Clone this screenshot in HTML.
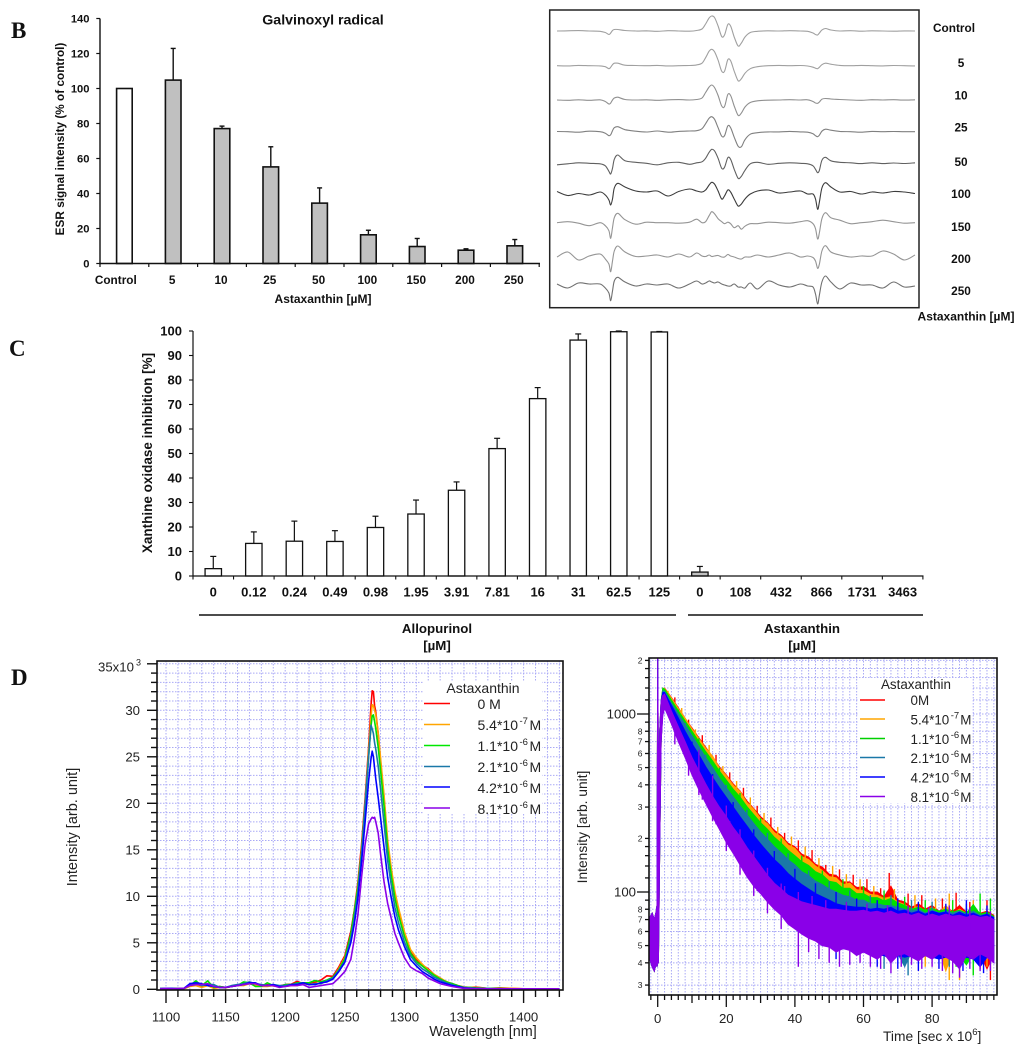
<!DOCTYPE html>
<html lang="en">
<head>
<meta charset="utf-8">
<title>Antioxidant activity of astaxanthin</title>
<style>
html,body{margin:0;padding:0;background:#fff;width:1024px;height:1051px;overflow:hidden}
svg{display:block;filter:blur(.3px)}
text{font-family:"Liberation Sans",sans-serif;fill:#111}
.b{font-weight:bold}
.panel{font-family:"Liberation Serif",serif;font-weight:bold;font-size:23px;fill:#111}
.d{fill:#222;font-size:13.2px}
.lg{fill:#222;font-size:14px}
#legendDecay .lg{font-size:13.4px}
</style>
</head>
<body>
<svg id="figure" xmlns="http://www.w3.org/2000/svg" width="1024" height="1051" viewBox="0 0 1024 1051">
<rect x="0" y="0" width="1024" height="1051" fill="#fff"/>
<defs>
<clipPath id="clipSpectrum"><rect x="157" y="661" width="406" height="329"/></clipPath>
<clipPath id="clipDecay"><rect x="649" y="658" width="348" height="337"/></clipPath>
</defs>

<text class="panel" x="11" y="38">B</text>
<text class="panel" x="9" y="356">C</text>
<text class="panel" x="11" y="685">D</text>

<g id="chartB"></g>
<text class="b" x="323" y="24.5" font-size="14.2" text-anchor="middle">Galvinoxyl radical</text>
<text class="b" transform="translate(64,139) rotate(-90)" font-size="11.8" text-anchor="middle">ESR signal intensity (% of control)</text>
<text class="b" x="323" y="303" font-size="12" text-anchor="middle">Astaxanthin [µM]</text>

<g id="chartEsr"></g>
<text class="b" x="966" y="320.5" font-size="12" text-anchor="middle">Astaxanthin [µM]</text>

<g id="chartC"></g>
<text class="b" transform="translate(152,453) rotate(-90)" font-size="13.5" text-anchor="middle">Xanthine oxidase inhibition [%]</text>
<line x1="199" y1="615" x2="676" y2="615" stroke="#111" stroke-width="1.4"/>
<line x1="688" y1="615" x2="923" y2="615" stroke="#111" stroke-width="1.4"/>
<text class="b" x="437" y="633" font-size="13.3" text-anchor="middle">Allopurinol</text>
<text class="b" x="437" y="650" font-size="13.3" text-anchor="middle">[µM]</text>
<text class="b" x="802" y="633" font-size="13.3" text-anchor="middle">Astaxanthin</text>
<text class="b" x="802" y="650" font-size="13.3" text-anchor="middle">[µM]</text>

<g id="chartSpectrum"></g>
<g id="legendSpectrum">
<rect x="423" y="681" width="119" height="133" fill="#fff"/>
<text class="lg" x="483" y="693" text-anchor="middle">Astaxanthin</text>
<line x1="424" x2="450" y1="703.5" y2="703.5" stroke="#ff0000" stroke-width="1.6"/>
<text class="lg" x="477.5" y="709">0 M</text>
<line x1="424" x2="450" y1="724.5" y2="724.5" stroke="#ffa500" stroke-width="1.6"/>
<text class="lg" x="477.5" y="730">5.4*10<tspan dy="-6" dx="1.5" font-size="9.5">-7</tspan><tspan dy="6" dx="1.5">M</tspan></text>
<line x1="424" x2="450" y1="745.5" y2="745.5" stroke="#00e800" stroke-width="1.6"/>
<text class="lg" x="477.5" y="751">1.1*10<tspan dy="-6" dx="1.5" font-size="9.5">-6</tspan><tspan dy="6" dx="1.5">M</tspan></text>
<line x1="424" x2="450" y1="766.5" y2="766.5" stroke="#1a78a8" stroke-width="1.6"/>
<text class="lg" x="477.5" y="772">2.1*10<tspan dy="-6" dx="1.5" font-size="9.5">-6</tspan><tspan dy="6" dx="1.5">M</tspan></text>
<line x1="424" x2="450" y1="787" y2="787" stroke="#0000ff" stroke-width="1.6"/>
<text class="lg" x="477.5" y="793">4.2*10<tspan dy="-6" dx="1.5" font-size="9.5">-6</tspan><tspan dy="6" dx="1.5">M</tspan></text>
<line x1="424" x2="450" y1="808" y2="808" stroke="#8a00e8" stroke-width="1.6"/>
<text class="lg" x="477.5" y="814">8.1*10<tspan dy="-6" dx="1.5" font-size="9.5">-6</tspan><tspan dy="6" dx="1.5">M</tspan></text>
</g>
<text class="d" transform="translate(77,827) rotate(-90)" text-anchor="middle" style="font-size:14.5px">Intensity [arb. unit]</text>
<text class="d" x="483" y="1036" text-anchor="middle" style="font-size:14.4px">Wavelength [nm]</text>

<g id="chartDecay"></g>
<g id="legendDecay">
<rect x="858" y="678" width="114" height="125" fill="#fff"/>
<text class="lg" x="916" y="689" text-anchor="middle">Astaxanthin</text>
<line x1="860" x2="885" y1="700" y2="700" stroke="#ff0000" stroke-width="1.6"/>
<text class="lg" x="910.5" y="705">0M</text>
<line x1="860" x2="885" y1="719" y2="719" stroke="#ffa500" stroke-width="1.6"/>
<text class="lg" x="910.5" y="724.5">5.4*10<tspan dy="-6" dx="1.5" font-size="9.5">-7</tspan><tspan dy="6" dx="1">M</tspan></text>
<line x1="860" x2="885" y1="738.5" y2="738.5" stroke="#00d000" stroke-width="1.6"/>
<text class="lg" x="910.5" y="744">1.1*10<tspan dy="-6" dx="1.5" font-size="9.5">-6</tspan><tspan dy="6" dx="1">M</tspan></text>
<line x1="860" x2="885" y1="757.5" y2="757.5" stroke="#1a78a8" stroke-width="1.6"/>
<text class="lg" x="910.5" y="763">2.1*10<tspan dy="-6" dx="1.5" font-size="9.5">-6</tspan><tspan dy="6" dx="1">M</tspan></text>
<line x1="860" x2="885" y1="777" y2="777" stroke="#0000ff" stroke-width="1.6"/>
<text class="lg" x="910.5" y="782.5">4.2*10<tspan dy="-6" dx="1.5" font-size="9.5">-6</tspan><tspan dy="6" dx="1">M</tspan></text>
<line x1="860" x2="885" y1="796.5" y2="796.5" stroke="#8a00e8" stroke-width="1.6"/>
<text class="lg" x="910.5" y="802">8.1*10<tspan dy="-6" dx="1.5" font-size="9.5">-6</tspan><tspan dy="6" dx="1">M</tspan></text>
</g>
<text class="d" transform="translate(587,827) rotate(-90)" text-anchor="middle" style="font-size:13.8px">Intensity [arb. unit]</text>
<text class="d" x="883" y="1041" style="font-size:13.8px">Time [sec x 10<tspan dy="-6" font-size="9.5">6</tspan><tspan dy="6">]</tspan></text>
</svg>

<script>
/* ---------- Panel B: galvinoxyl ---------- */
const galvCategories = ['Control','5','10','25','50','100','150','200','250'];
const galvValues = [100,104.8,77.1,55.2,34.5,16.4,9.7,7.6,10.1];
const galvErrorTops = [100,122.9,78.5,66.7,43.2,19,14.3,8.4,13.7];
const galvFills = ['#ffffff','#c0c0c0','#c0c0c0','#c0c0c0','#c0c0c0','#c0c0c0','#c0c0c0','#c0c0c0','#c0c0c0'];
const galvTicks = [0,20,40,60,80,100,120,140];

/* ---------- Panel B: ESR spectra ---------- */
const esrLabels = ['Control','5','10','25','50','100','150','200','250'];
const esrField = [0,3,6,9,12,13.5,14.5,15,15.5,16,17,19,22,25,28,31,34,37,39,40.5,41.5,42.5,43.2,44,45,46,46.8,47.7,48.5,49.5,50.6,51.5,52.5,54,56,59,62,65,68,70,71.5,72.2,72.8,73.3,74,75,76.5,79,82,85,88,91,94,97,100];
const esrControl = [0,.2,.4,0,-.3,-1.5,-3.5,-2,.5,1.5,1.5,.5,0,.2,-.3,.3,0,-.2,.5,2,7,13,15,13.5,5,-5.5,-4,6.5,5,-6,-15,-12,-6,-1.5,-.3,.2,0,.3,0,-.3,-2,-3.5,-4,-2,1,2.5,1,0,.3,-.2,.2,0,-.2,.1,0];
const esr5 = [0,-.2,.3,0,-.2,-1,-3,-1.5,1,2.5,2.5,.5,.2,0,.3,-.2,0,.2,.8,2.5,8,14.5,16.4,14,5.5,-5.5,-5.5,6,5,-5.5,-15,-13,-7.5,-3,-1,0,.3,0,.2,-.3,-1.5,-2.5,-3,-1.5,1,2.5,1.5,.3,0,.3,0,-.2,.2,0,-.2];
const esr10 = [0,-.3,.2,-.3,.2,-1.5,-4,-3,0,2,2.8,.5,0,.2,-.3,.2,.4,0,.5,2,7.5,13,15,12.5,4.5,-6,-6.5,5.5,4.5,-6,-15.3,-13,-7,-2.5,-.8,-.2,0,.3,0,.2,-1.5,-3,-3.3,-2,.8,1.5,1,.5,0,-.3,.3,0,.3,-.1,.2];
const esr25 = [.2,0,-.5,.5,0,-1.5,-4,-3,1,4,5,2,.5,-.3,.7,-.5,.3,.7,1,3,8,13.5,15,12.5,4,-4.5,-4,5.8,4,-5.5,-14.5,-15,-8,-2.5,-1,-.2,-.2,.3,-.2,-.5,-2,-4,-5,-3.5,.5,2.5,1.5,.3,0,-.5,.3,0,.2,0,0];
const esr50 = [-1.5,-.5,.5,0,-.5,-2.5,-8,-10.7,-5,4,8.3,2.5,1,0,-1.5,.5,1,-1,.5,1.5,5,11,14,12.5,5,-5,-4,5.6,4,-6,-15,-13,-7,-.5,1,-1,0,.5,0,-.5,-2.5,-6,-9.4,-7,3,6,2.5,1,.5,-.3,.5,-.3,.3,-.2,.5];
const esr100 = [1.5,-2.5,-.5,-2,1,-2,-7,-12,-6,5,9.7,6,2,1,2,-3,1.5,4,2,1,3,8,10.7,9,2,-6,-3,3,1,-6,-13,-11,-6,-1,2,3,0,1,2,-1,-1,-6,-16.3,-9,5,10.3,6,1,1.5,-1,1,0,1.5,1,-.5];
const esr150 = [0,1,-.5,-3,0,-3,-8,-15.6,-5,5,9.4,3,-1.5,.5,0,0,-.5,.5,3.5,0,1,7,11,9,4,1,-1,.5,-1,-5,-3,-6.5,-3.5,-1,-1,.5,0,-.5,1,2,-1,-6,-16.3,-10,4,10,5,2.5,-1,0,1,2.5,1,-.5,0];
const esr200 = [-1,4,-4,0,2,-3,-8,-15.7,-5,5,10,4,-.5,0,1,-1,2,-1,3,0,-.5,1,-.5,0,.5,-1,-1,1.5,0,-1,-2.5,-3,-1,-1,1,-1,1,3,-1,0,-1.5,-5,-12.3,-8,5,10.3,4,1,-1,0,0,5,2,-4,1];
const esr250 = [1,-3,2,1,1,-3,-8,-15.7,-6,4,7.7,3,-1,1,0,1,-3,1,4,1,2,4,3,2,3,1,0,-1,-1,1,-2,-2,-3,2,-4,4,0,-2,1,-1,-2,-9,-19,-10,3,9,3,-4,2,0,0,-3,3,-2,-1];

/* ---------- Panel C: xanthine oxidase ---------- */
const xoCategories = ['0','0.12','0.24','0.49','0.98','1.95','3.91','7.81','16','31','62.5','125','0','108','432','866','1731','3463'];
const xoValues = [3,13.3,14.2,14.1,19.8,25.3,35,52,72.4,96.3,99.7,99.6,1.6,0,0,0,0,0];
const xoErrorTops = [8,18,22.4,18.5,24.4,31,38.4,56.2,76.9,98.8,100,99.8,3.9,0,0,0,0,0];
const xoTicks = [0,10,20,30,40,50,60,70,80,90,100];

/* ---------- Panel D: emission spectrum (x 1000) ---------- */
const spectrumNm = [1095,1100,1105,1110,1115,1120,1125,1130,1135,1140,1145,1150,1155,1160,1165,1170,1175,1180,1185,1190,1195,1200,1205,1210,1215,1220,1225,1230,1235,1240,1245,1250,1255,1258,1261,1264,1267,1270,1272,1273,1274,1275,1276,1278,1280,1283,1286,1289,1292,1295,1300,1305,1310,1315,1320,1325,1330,1335,1340,1345,1350,1355,1360,1370,1380,1390,1400,1410,1420,1430];
const spectrum0M = [.05,.1,.1,.05,.1,.5,.6,.3,.6,.2,.3,.2,.3,.4,.7,.6,.45,.4,.5,.35,.35,.5,.55,.85,.6,.7,.75,1,1.45,1.4,2.4,3.6,6.2,8.5,11.5,15.5,20.5,26,30.5,32.1,32,30.5,29.8,27.5,24.5,20.5,15.5,12.8,10.2,8.6,6,4,3.2,2.6,2.2,1.6,1.2,.8,.6,.4,.25,.2,.25,.1,.15,.1,.05,.05,.05,.05];
const spectrum54e7 = [.05,.05,.1,.1,.05,.3,.4,.2,.4,.1,.2,.15,.3,.4,.4,.6,.5,.3,.3,.4,.3,.3,.4,.4,.6,.5,.6,.7,.9,1.2,2.2,3.4,5.8,8.2,11.2,15,20,25.5,29.3,30.6,30.5,30,29.5,27.5,24.8,20.8,16,13,10.5,8.8,6.2,4.3,3.4,2.7,2.1,1.6,1.2,.85,.6,.4,.25,.2,.2,.1,.1,.1,.05,.05,.05,.05];
const spectrum11e6 = [.1,.1,.1,.1,.1,.4,.9,.4,.9,.2,.3,.2,.3,.4,.8,.7,.3,.3,.7,.4,.3,.5,.5,.7,.7,.7,.95,.8,1,1.3,2.1,3.3,5.9,8.3,11,14.8,19.8,25,28.3,29.4,29.5,28.8,28,26,23.5,19.6,15,12.2,9.8,8,5.7,3.9,3,2.5,2,1.5,1.1,.8,.6,.4,.2,.2,.15,.1,.1,.05,.05,.05,.05,.05];
const spectrum21e6 = [.1,.1,.1,.05,.1,.5,.6,.4,.5,.5,.2,.2,.4,.5,.6,.8,.6,.5,.4,.5,.4,.4,.5,.6,.7,.5,.6,.6,.9,1.2,2,3,5.4,7.6,10.5,14.5,19.8,25,28.4,28,27.5,26.5,25.8,24,21.5,17.8,13.8,11.2,8.8,7.2,5.1,3.6,2.8,2.2,1.8,1.3,1,.7,.5,.3,.2,.15,.1,.1,.05,.05,.05,.05,.05,.05];
const spectrum42e6 = [.05,.1,.1,.05,.1,.6,.7,.6,.4,.3,.2,.2,.3,.4,.5,.7,.7,.4,.4,.5,.3,.3,.5,.5,.7,.5,.5,.7,.8,1.1,1.9,2.9,5,7,9.8,13.6,18,22.4,24.8,25.6,25,23.8,22.6,20.6,18.4,15.2,12,9.8,7.8,6.4,4.6,3.2,2.5,1.9,1.5,1.1,.8,.6,.4,.3,.15,.1,.1,.05,.05,.05,.05,.05,.05,.05];
const spectrum81e6 = [.05,.1,.05,.1,.1,.4,.5,.5,.6,.3,.2,.2,.3,.4,.5,.6,.6,.4,.4,.4,.2,.3,.4,.4,.5,.2,.3,.4,.5,.6,1.2,1.9,3.2,5.4,8,12,15.6,17.8,18.3,18.5,18.4,18.5,18,16.8,14.5,11.5,9.2,7.6,6,5,3.4,2.4,2,1.7,1.2,.9,.6,.45,.3,.2,.1,.1,.05,.05,.05,.05,.05,.05,.05,.05];
const spectrumXLabels = [1100,1150,1200,1250,1300,1350,1400];
const spectrumYLabels = [0,5,10,15,20,25,30];

/* ---------- Panel D: luminescence decay ---------- */
const decayRiseTimes = [-2.3,-1.6,-1,-.4,-.2,0,.2,.6,1];
const decayRiseUpper = [72,76,70,78,84,2050,450,800,1180];
const decayRiseLower = [42,38,36,40,38,40,40,200,700];
const decayTimes = [1.5,2,4,6,8,10,12,14,16,18,20,22,24,26,28,30,32,34,36,38,40,42,44,46,48,50,52,54,56,58,60,62,64,66,68,70,72,74,76,78,80,82,84,86,88,90,92,94,96,98];
const decay0MUpper = [1380,1400,1240,1085,945,835,735,650,575,505,455,405,370,325,295,265,245,222,208,188,180,163,157,143,138,126,124,114,114,106,107,100,100,94,108,90,88,82,86,80,84,78,82,78,84,77,80,76,78,74];
const decay0MLower = [1080,1180,1040,900,780,680,590,520,455,400,355,315,285,250,225,200,183,165,152,138,130,118,112,103,98,90,86,80,78,74,72,68,66,62,62,58,56,54,52,50,50,48,48,47,46,46,45,45,37,45];
const decay54e7Upper = [1385,1390,1230,1075,950,825,728,642,580,498,450,398,368,318,292,258,242,216,204,184,176,158,152,140,132,122,120,110,112,103,102,97,96,92,94,88,85,80,83,78,82,76,84,76,80,76,78,74,76,73];
const decay54e7Lower = [1080,1170,1030,890,770,670,580,510,450,390,345,305,275,240,215,190,175,157,145,130,122,110,104,96,90,84,80,74,72,68,66,62,60,58,56,54,52,50,50,48,48,47,36,46,45,44,45,44,44,43];
const decay11e6Upper = [1400,1380,1200,1045,915,800,700,615,545,478,425,378,342,302,272,245,225,203,188,172,160,148,141,130,125,115,113,105,105,98,98,93,93,89,92,87,84,80,82,79,81,78,80,77,79,76,85,75,77,73];
const decay11e6Lower = [1070,1160,1000,860,740,640,550,480,420,365,320,285,255,222,198,178,162,145,132,120,110,102,96,88,84,77,75,69,68,63,62,58,57,54,52,50,49,47,47,46,46,45,45,44,44,39,45,44,43,43];
const decay21e6Upper = [1350,1340,1150,1000,870,755,655,570,500,435,385,342,305,272,243,218,198,180,166,152,142,130,124,115,110,104,100,96,94,90,90,86,86,84,84,82,80,78,80,76,79,76,78,76,78,75,78,74,75,72];
const decay21e6Lower = [1050,1120,950,810,690,590,500,430,375,320,280,245,215,190,168,150,134,120,110,100,92,84,78,72,68,64,61,57,55,52,50,48,46,46,44,45,38,46,44,45,45,44,44,43,44,43,44,43,43,42];
const decay42e6Upper = [1320,1320,1120,950,800,680,590,505,440,385,340,300,265,235,208,186,168,152,140,127,118,110,104,98,94,90,86,84,83,82,82,80,81,80,82,78,79,76,78,75,78,76,77,74,77,74,76,73,75,72];
const decay42e6Lower = [1020,1100,920,770,640,540,460,390,335,285,245,215,185,160,140,124,110,98,90,80,74,68,64,60,57,54,52,50,49,47,46,45,44,44,42,44,43,44,42,44,43,42,43,42,41,43,42,38,43,41];
const decay81e6Upper = [1270,1290,1040,850,700,570,480,405,345,300,265,230,205,178,158,140,124,112,104,96,92,88,86,84,82,80,80,79,78,78,79,77,78,76,78,75,76,74,76,73,75,73,75,73,74,72,74,72,73,70];
const decay81e6Lower = [980,1080,880,700,570,455,375,315,265,225,190,165,142,122,108,98,88,80,74,66,62,58,55,53,50,49,46,48,47,44,46,44,42,45,40,44,45,43,41,44,42,45,43,41,37,44,42,45,43,40];
/* noise spikes: [time, intensity] pairs */
const decaySpikesUp0M = [[5,1240],[9,930],[13,760],[17,590],[21,470],[25,385],[29,305],[33,262],[37,215],[41,195],[45,172],[49,142],[53,134],[57,125],[61,118],[65,105],[67.5,128],[73,98],[77,96],[83,92],[87,99],[91,88],[96,90]];
const decaySpikesUp54e7 = [[3,1350],[7,1080],[11,820],[15,670],[19,510],[23,420],[27,340],[31,278],[35,232],[39,205],[43,180],[47,155],[51,140],[55,126],[59,118],[63,108],[69,104],[75,96],[81,92],[85,98],[92,90]];
const decaySpikesUp11e6 = [[6,1060],[12,730],[18,500],[24,360],[30,260],[36,200],[42,160],[48,132],[54,118],[60,108],[66,102],[72,94],[78,90],[86,90],[94,98],[97,92]];
const decaySpikesUp21e6 = [[8,890],[14,590],[20,400],[26,290],[32,215],[38,165],[44,132],[50,115],[56,102],[62,96],[68,96],[74,90],[80,88],[90,86]];
const decaySpikesUp42e6 = [[10,700],[16,460],[22,320],[28,225],[34,170],[40,135],[46,112],[52,100],[58,92],[64,90],[70,92],[76,88],[84,86],[90,90],[96,84]];
const decaySpikesUp81e6 = [[5,900],[9,600],[13,440],[17,320],[21,250],[25,175],[29,135],[33,118],[37,108],[41,100],[45,95],[49,90],[55,88],[61,86],[67,84],[73,84],[79,82],[85,84],[91,82],[97,78]];
const decaySpikesDown0M = [[94,37],[97,32]];
const decaySpikesDown54e7 = [[78,38],[85,32],[88,32],[96,38]];
const decaySpikesDown11e6 = [[87,38],[92,34]];
const decaySpikesDown21e6 = [[66,37],[73,34],[85,38]];
const decaySpikesDown42e6 = [[52,42],[64,38],[70,37],[76,36],[82,37],[89,36],[95,35]];
const decaySpikesDown81e6 = [[12,350],[16,250],[20,170],[24,125],[28,95],[32,76],[36,62],[41,38],[44,46],[47,42],[50,40],[53,38],[56,39],[59,40],[62,38],[65,37],[68,35],[71,38],[74,39],[77,37],[80,38],[83,36],[86,35],[88,33],[91,37],[94,36],[97,36]];
const decayXLabels = [0,20,40,60,80];
const decayDecadeLabels = [100,1000];
const decayDigitValues = [30,40,50,60,70,80,200,300,400,500,600,700,800,2000];
const decayGridValues = [30,40,50,60,70,80,90,100,120,140,160,180,200,300,400,500,600,700,800,900,1000,1200,1400,1600,1800,2000];
const seriesColors = ['#ff0000','#ffa500','#00e000','#1a78a8','#0000ff','#8a00e8'];

const NS = 'http://www.w3.org/2000/svg';
function mk(tag, parent, attrs) {
  const e = document.createElementNS(NS, tag);
  for (const k in attrs) e.setAttribute(k, attrs[k]);
  parent.appendChild(e);
  return e;
}
const INK = '#111';

/* ---- Panel B bars ---- */
const xB = i => 100 + (i + 0.5) * 48.8;
const yB = v => 263.5 - v * 1.75;
(function () {
  const g = document.getElementById('chartB');
  galvValues.forEach((v, i) => {
    if (galvErrorTops[i] > v) {
      const s = mk('line', g, {x1:xB(i), x2:xB(i), y1:yB(v), y2:yB(galvErrorTops[i]), stroke:INK, 'stroke-width':1.4});
      
      
      const c = mk('line', g, {x1:xB(i)-2.5, x2:xB(i)+2.5, y1:yB(galvErrorTops[i]), y2:yB(galvErrorTops[i]), stroke:INK, 'stroke-width':1.4});
      
      
    }
    const r = mk('rect', g, {x:xB(i)-7.8, y:yB(v), width:15.6, height:yB(0)-yB(v), fill:galvFills[i], stroke:INK, 'stroke-width':1.6});
    
    
    const t = mk('text', g, {x:i === 0 ? xB(i)-8.6 : xB(i)-1, y:284, 'font-size':11.8, 'text-anchor':'middle', class:'b'});
    t.textContent = galvCategories[i];
    
    
  });
  galvCategories.concat(['end']).forEach((c, i) => {
    const tk = mk('line', g, {x1:100+i*48.8, x2:100+i*48.8, y1:yB(0), y2:yB(0)+3.5, stroke:INK, 'stroke-width':1.2});
    
    
  });
  galvTicks.forEach(v => {
    const tk = mk('line', g, {x1:96.3, x2:100, y1:yB(v), y2:yB(v), stroke:INK, 'stroke-width':1.2});
    
    
    const t = mk('text', g, {x:89.5, y:yB(v)+4, 'font-size':11.2, 'text-anchor':'end', class:'b'});
    t.textContent = v;
    
    
  });
  const ya = mk('line', g, {x1:100, x2:100, y1:yB(140), y2:yB(0)+.7, stroke:INK, 'stroke-width':1.4});
  
  
  const xa = mk('line', g, {x1:99.3, x2:540, y1:yB(0), y2:yB(0), stroke:INK, 'stroke-width':1.4});
  
  
})();

/* ---- ESR traces ---- */
const esrTraces = [esrControl, esr5, esr10, esr25, esr50, esr100, esr150, esr200, esr250];
const esrBaselines = [31, 65.7, 100, 131.7, 163.3, 193, 222.7, 256, 285];
const esrLabelY = [32, 67, 99.5, 131.5, 166, 198, 231, 263, 295];
const esrColors = ['#a0a0a0','#a0a0a0','#909090','#808080','#606060','#3c3c3c','#959595','#959595','#707070'];
const xEsr = f => 557 + f * 3.58;
const yEsr = (row, off) => esrBaselines[row] - off;
function smoothPath(pts) {
  let d = 'M' + pts[0][0].toFixed(1) + ' ' + pts[0][1].toFixed(1);
  for (let i = 0; i < pts.length - 1; i++) {
    const p0 = pts[Math.max(0, i - 1)], p1 = pts[i], p2 = pts[i + 1], p3 = pts[Math.min(pts.length - 1, i + 2)];
    const c1x = p1[0] + (p2[0] - p0[0]) / 6, c1y = p1[1] + (p2[1] - p0[1]) / 6;
    const c2x = p2[0] - (p3[0] - p1[0]) / 6, c2y = p2[1] - (p3[1] - p1[1]) / 6;
    d += 'C' + c1x.toFixed(1) + ' ' + c1y.toFixed(1) + ' ' + c2x.toFixed(1) + ' ' + c2y.toFixed(1) + ' ' + p2[0].toFixed(1) + ' ' + p2[1].toFixed(1);
  }
  return d;
}
(function () {
  const g = document.getElementById('chartEsr');
  const box = mk('rect', g, {x:549.7, y:10, width:369.3, height:297.7, fill:'#fff', stroke:'#222', 'stroke-width':1.5});
  
  
  esrTraces.forEach((vals, row) => {
    const pts = vals.map((o, i) => [xEsr(esrField[i]), yEsr(row, o)]);
    const p = mk('path', g, {d:smoothPath(pts), fill:'none', stroke:esrColors[row], 'stroke-width':1.1, 'stroke-linejoin':'round'});
    
    
    const t = mk('text', g, {x:row === 0 ? 954 : 961, y:esrLabelY[row], 'font-size':11.8, 'text-anchor':'middle', class:'b'});
    t.textContent = esrLabels[row];
    
    
  });
})();

/* ---- Panel C bars ---- */
const xC = i => 193 + (i + 0.5) * 40.55;
const yC = v => 576 - v * 2.45;
(function () {
  const g = document.getElementById('chartC');
  xoCategories.forEach((c, i) => {
    const v = xoValues[i];
    if (v > 0) {
      const s = mk('line', g, {x1:xC(i), x2:xC(i), y1:yC(v), y2:yC(xoErrorTops[i]), stroke:INK, 'stroke-width':1.2});
      
      
      const cp = mk('line', g, {x1:xC(i)-3, x2:xC(i)+3, y1:yC(xoErrorTops[i]), y2:yC(xoErrorTops[i]), stroke:INK, 'stroke-width':1.2});
      
      
      const r = mk('rect', g, {x:xC(i)-8.2, y:yC(v), width:16.4, height:yC(0)-yC(v), fill:i === 12 ? '#c0c0c0' : '#fff', stroke:INK, 'stroke-width':1.3});
      
      
    }
    const t = mk('text', g, {x:xC(i), y:596.5, 'font-size':13, 'text-anchor':'middle', class:'b'});
    t.textContent = c;
    
    
  });
  xoCategories.concat(['end']).forEach((c, i) => {
    const tk = mk('line', g, {x1:193+i*40.55, x2:193+i*40.55, y1:yC(0), y2:yC(0)+3.5, stroke:INK, 'stroke-width':1.1});
    
    
  });
  xoTicks.forEach(v => {
    const tk = mk('line', g, {x1:189, x2:193, y1:yC(v), y2:yC(v), stroke:INK, 'stroke-width':1.1});
    
    
    const t = mk('text', g, {x:182, y:yC(v)+4.6, 'font-size':13, 'text-anchor':'end', class:'b'});
    t.textContent = v;
    
    
  });
  const ya = mk('line', g, {x1:193, x2:193, y1:yC(100), y2:yC(0), stroke:INK, 'stroke-width':1.2});
  
  
  const xa = mk('line', g, {x1:193, x2:923.5, y1:yC(0), y2:yC(0), stroke:INK, 'stroke-width':1.2});
  
  
})();

const GRID = '#a9a9f6';
/* ---- Spectrum chart ---- */
const xS = nm => 166 + (nm - 1100) * 1.192;
const yS = k => 989.3 - k * 9.3;
(function () {
  const g = document.getElementById('chartSpectrum');
  for (let nm = 1100; nm <= 1430; nm += 10) {
    const l = mk('line', g, {x1:xS(nm), x2:xS(nm), y1:661, y2:990, stroke:GRID, 'stroke-width':1, 'stroke-dasharray':'1.5 1.5'});
    
    
    const big = nm % 50 === 0;
    const tk = mk('line', g, {x1:xS(nm), x2:xS(nm), y1:990, y2:big ? 1003 : 997, stroke:INK, 'stroke-width':1.4});
    
    
  }
  for (let k = 0; k <= 35; k += 1) {
    if (k > 0) {
      const l = mk('line', g, {x1:157, x2:563, y1:yS(k), y2:yS(k), stroke:GRID, 'stroke-width':1, 'stroke-dasharray':'1.5 1.5'});
      
      
    }
    const tk = mk('line', g, {x1:k % 5 === 0 ? 147 : 151, x2:157, y1:yS(k), y2:yS(k), stroke:INK, 'stroke-width':1.4});
    
    
  }
  const clip = mk('g', g, {'clip-path':'url(#clipSpectrum)'});
  
  
  [spectrum0M, spectrum54e7, spectrum11e6, spectrum21e6, spectrum42e6, spectrum81e6].forEach((vals, s) => {
    const pts = vals.map((v, i) => xS(spectrumNm[i]).toFixed(1) + ',' + yS(v).toFixed(1)).join(' ');
    const p = mk('polyline', clip, {points:pts, fill:'none', stroke:seriesColors[s], 'stroke-width':1.6, 'stroke-linejoin':'round'});
    
    
  });
  const fr = mk('rect', g, {x:157, y:661, width:406, height:329, fill:'none', stroke:INK, 'stroke-width':1.6});
  
  
  spectrumXLabels.forEach(n => {
    const t = mk('text', g, {x:xS(n), y:1021.5, 'text-anchor':'middle', class:'d'});
    t.textContent = n;
    
    
  });
  spectrumYLabels.forEach(n => {
    const t = mk('text', g, {x:140, y:yS(n)+4.5, 'text-anchor':'end', class:'d'});
    t.textContent = n;
    
    
  });
  const top = mk('text', g, {x:98, y:671.5, class:'d'});
  top.textContent = '35x10';
  
  
  const sup = mk('text', g, {x:136, y:665.5, style:'font-size:9px', class:'d'});
  sup.textContent = '3';
  
  
})();

/* ---- Decay chart ---- */
const xD = t => 657.7 + t * 3.43;
const yD = v => 892 - (Math.log10(v) - 2) * 178;
(function () {
  const g = document.getElementById('chartDecay');
  for (let t = -2; t <= 98; t += 2) {
    const l = mk('line', g, {x1:xD(t), x2:xD(t), y1:658, y2:995, stroke:GRID, 'stroke-width':1, 'stroke-dasharray':'1.5 1.5'});
    
    
    const len = t % 20 === 0 ? 12 : (t % 10 === 0 ? 8 : 5);
    const tk = mk('line', g, {x1:xD(t), x2:xD(t), y1:995, y2:995 + len, stroke:INK, 'stroke-width':1.3});
    
    
  }
  decayGridValues.forEach(v => {
    const l = mk('line', g, {x1:649, x2:997, y1:yD(v), y2:yD(v), stroke:GRID, 'stroke-width':1, 'stroke-dasharray':'1.5 1.5'});
    
    
    const tk = mk('line', g, {x1:decayDecadeLabels.includes(v) ? 637 : 645, x2:649, y1:yD(v), y2:yD(v), stroke:INK, 'stroke-width':1.3});
    
    
  });
  const clip = mk('g', g, {'clip-path':'url(#clipDecay)'});
  
  
  const uppers = [decay0MUpper, decay54e7Upper, decay11e6Upper, decay21e6Upper, decay42e6Upper, decay81e6Upper];
  const lowers = [decay0MLower, decay54e7Lower, decay11e6Lower, decay21e6Lower, decay42e6Lower, decay81e6Lower];
  const spikesUp = [decaySpikesUp0M, decaySpikesUp54e7, decaySpikesUp11e6, decaySpikesUp21e6, decaySpikesUp42e6, decaySpikesUp81e6];
  const spikesDown = [decaySpikesDown0M, decaySpikesDown54e7, decaySpikesDown11e6, decaySpikesDown21e6, decaySpikesDown42e6, decaySpikesDown81e6];
  const times = decayRiseTimes.concat(decayTimes);
  uppers.forEach((up, s) => {
    const hi = decayRiseUpper.concat(up);
    const lo = decayRiseLower.concat(lowers[s]);
    const a = hi.map((v, i) => xD(times[i]).toFixed(1) + ',' + yD(v).toFixed(1));
    const b = lo.map((v, i) => xD(times[i]).toFixed(1) + ',' + yD(v).toFixed(1)).reverse();
    const p = mk('polygon', clip, {points:a.concat(b).join(' '), fill:seriesColors[s], stroke:seriesColors[s], 'stroke-width':1, 'stroke-linejoin':'miter'});
    
    
    spikesUp[s].forEach(q => {
      const l = mk('line', clip, {x1:xD(q[0]), x2:xD(q[0]), y1:yD(q[1]), y2:yD(q[1] * 0.75), stroke:seriesColors[s], 'stroke-width':1.4});
      
      
    });
    spikesDown[s].forEach(q => {
      const l = mk('line', clip, {x1:xD(q[0]), x2:xD(q[0]), y1:yD(q[1]), y2:yD(q[1] * 1.8), stroke:seriesColors[s], 'stroke-width':1.4});
      
      
    });
  });
  const fr = mk('rect', g, {x:649, y:658, width:348, height:337, fill:'none', stroke:INK, 'stroke-width':1.6});
  
  
  decayXLabels.forEach(n => {
    const t = mk('text', g, {x:xD(n), y:1023, 'text-anchor':'middle', class:'d'});
    t.textContent = n;
    
    
  });
  decayDecadeLabels.forEach(n => {
    const t = mk('text', g, {x:636, y:yD(n)+4.5, 'text-anchor':'end', class:'d'});
    t.textContent = n;
    
    
  });
  decayDigitValues.forEach(n => {
    const t = mk('text', g, {x:642.5, y:yD(n)+3, 'text-anchor':'end', style:'font-size:8.5px', class:'d'});
    t.textContent = String(n)[0];
    
    
  });
})();
</script>
</body>
</html>
